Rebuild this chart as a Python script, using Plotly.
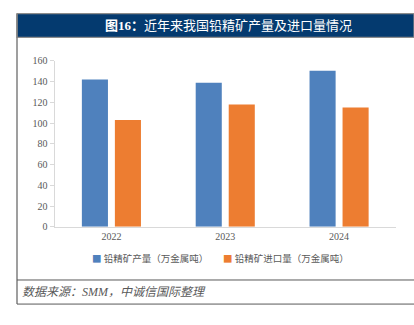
import plotly.graph_objects as go

years = ["2022", "2023", "2024"]
production = [142, 139, 150.5]
imports = [103, 118, 115]
series_names = ["铅精矿产量（万金属吨）", "铅精矿进口量（万金属吨）"]
series_colors = ["#4F81BD", "#ED7D31"]
y_ticks = [0, 20, 40, 60, 80, 100, 120, 140, 160]

W, H = 414, 325
def px(x):
    return x / W
def py(y):
    return 1 - y / H

fig = go.Figure()
for vals, name, col in zip([production, imports], series_names, series_colors):
    fig.add_trace(go.Bar(x=years, y=vals, name=name, showlegend=False,
                         marker=dict(color=col, line=dict(width=0))))

serif = "Liberation Serif, Noto Sans CJK SC"
fig.update_layout(
    width=W, height=H,
    margin=dict(l=0, r=0, t=0, b=0),
    paper_bgcolor="white", plot_bgcolor="white",
    barmode="group", bargap=0.42, bargroupgap=0.21,
    showlegend=False,
    xaxis=dict(domain=[px(54.5), px(396)], showline=True, linecolor="#D9D9D9", linewidth=1,
               ticks="", tickfont=dict(family=serif, size=10, color="#595959"),
               showgrid=False, fixedrange=True),
    yaxis=dict(domain=[py(229.3), py(57)], range=[0, 160], tickvals=y_ticks,
               showline=True, linecolor="#D9D9D9", linewidth=1,
               ticks="outside", ticklen=4, tickcolor="#D9D9D9",
               tickfont=dict(family=serif, size=10, color="#595959"),
               showgrid=False, zeroline=False, fixedrange=True),
)

shapes = [
    dict(type="rect", xref="paper", yref="paper", x0=px(17), x1=1.0, y0=py(32.5), y1=py(8),
         fillcolor="#043A6F", line=dict(color="#8C8C8C", width=1.2), layer="below"),
    dict(type="line", xref="paper", yref="paper", x0=px(17), x1=px(17), y0=py(309.5), y1=py(8),
         line=dict(color="#7F7F7F", width=1.5)),
    dict(type="line", xref="paper", yref="paper", x0=px(17), x1=1.0, y0=py(284.5), y1=py(284.5),
         line=dict(color="#595959", width=1)),
    dict(type="line", xref="paper", yref="paper", x0=px(17), x1=1.0, y0=py(309.5), y1=py(309.5),
         line=dict(color="#595959", width=1)),
]
fig.update_layout(shapes=shapes)

# manual legend
legend_x = [90, 221]
for lx, name, col in zip(legend_x, series_names, series_colors):
    fig.add_annotation(xref="paper", yref="paper", x=px(lx), y=py(262), xanchor="left", yanchor="middle",
                       text=f"<span style='color:{col}'>■</span> {name}", showarrow=False,
                       font=dict(family="Noto Sans CJK SC", size=9.5, color="#595959"))

fig.add_annotation(xref="paper", yref="paper", x=px(228), y=py(20.5), xanchor="center", yanchor="middle",
                   text="<b>图16：</b>近年来我国铅精矿产量及进口量情况", showarrow=False,
                   font=dict(family=serif, size=13, color="white"))
fig.add_annotation(xref="paper", yref="paper", x=px(20), y=py(297), xanchor="left", yanchor="middle",
                   text="<i>数据来源：SMM，中诚信国际整理</i>", showarrow=False,
                   font=dict(family=serif, size=12, color="#595959"))

fig.write_html("out.html")
